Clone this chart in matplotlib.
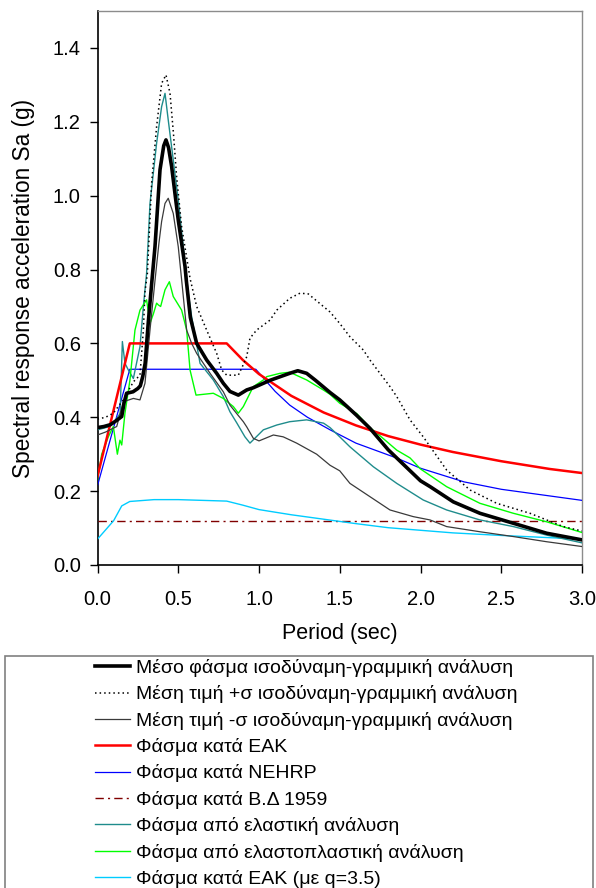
import matplotlib.pyplot as plt
from matplotlib.patches import Rectangle

plt.rcParams['font.family'] = ['Liberation Sans', 'DejaVu Sans']

# data (period in sec, Sa in g)
mean_T = [0.0, 0.04, 0.08, 0.12, 0.15, 0.165, 0.18, 0.22, 0.25, 0.265, 0.28, 0.295, 0.315, 0.335,
          0.356, 0.387, 0.41, 0.424, 0.44, 0.459, 0.5, 0.542, 0.55, 0.575, 0.614, 0.676, 0.738,
          0.779, 0.82, 0.872, 0.924, 0.965, 1.027, 1.068, 1.19, 1.24, 1.295, 1.35, 1.44, 1.5,
          1.543, 1.605, 1.687, 1.8, 1.9, 2.0, 2.06, 2.203, 2.368, 2.575, 2.781, 3.0]
mean_Sa = [0.372, 0.375, 0.38, 0.392, 0.402, 0.44, 0.465, 0.469, 0.478, 0.485, 0.51, 0.546, 0.66, 0.76,
           0.862, 1.07, 1.135, 1.151, 1.13, 1.079, 0.934, 0.808, 0.77, 0.67, 0.6, 0.555, 0.519,
           0.492, 0.47, 0.46, 0.474, 0.48, 0.492, 0.5, 0.519, 0.526, 0.519, 0.5, 0.467, 0.447,
           0.43, 0.405, 0.37, 0.312, 0.27, 0.228, 0.212, 0.171, 0.14, 0.113, 0.086, 0.068]

plus_T = [0.0, 0.05, 0.098, 0.13, 0.16, 0.222, 0.263, 0.284, 0.294, 0.309, 0.335, 0.366, 0.397,
          0.424, 0.449, 0.47, 0.49, 0.521, 0.573, 0.614, 0.676, 0.738, 0.769, 0.8, 0.872, 0.9,
          0.924, 0.944, 0.985, 1.068, 1.11, 1.19, 1.254, 1.305, 1.44, 1.5, 1.563, 1.646, 1.687,
          1.811, 1.853, 1.935, 2.017, 2.162, 2.307, 2.472, 2.678, 2.884, 3.0]
plus_Sa = [0.395, 0.4, 0.411, 0.43, 0.447, 0.496, 0.514, 0.636, 0.74, 0.79, 1.034, 1.187, 1.304,
           1.327, 1.277, 1.17, 1.051, 0.916, 0.776, 0.7, 0.636, 0.573, 0.528, 0.514, 0.514, 0.54,
           0.564, 0.614, 0.636, 0.663, 0.69, 0.722, 0.736, 0.734, 0.685, 0.654, 0.618, 0.582, 0.555,
           0.483, 0.456, 0.393, 0.347, 0.257, 0.203, 0.167, 0.14, 0.104, 0.092]

minus_T = [0.0, 0.05, 0.119, 0.16, 0.222, 0.263, 0.294, 0.325, 0.356, 0.38, 0.397, 0.418, 0.438,
           0.469, 0.5, 0.521, 0.542, 0.552, 0.583, 0.614, 0.697, 0.779, 0.82, 0.862, 0.903, 0.924,
           0.965, 1.0, 1.05, 1.089, 1.15, 1.233, 1.357, 1.44, 1.5, 1.563, 1.687, 1.811, 1.955,
           2.059, 2.162, 2.368, 2.575, 2.781, 3.0]
minus_Sa = [0.352, 0.36, 0.375, 0.442, 0.451, 0.447, 0.492, 0.636, 0.77, 0.87, 0.93, 0.979, 0.993,
            0.952, 0.862, 0.772, 0.68, 0.636, 0.6, 0.573, 0.519, 0.469, 0.433, 0.41, 0.388, 0.374,
            0.343, 0.336, 0.345, 0.352, 0.347, 0.33, 0.3, 0.27, 0.255, 0.221, 0.185, 0.149, 0.131,
            0.122, 0.104, 0.09, 0.077, 0.063, 0.05]

eak_T = [0.0, 0.2, 0.8, 0.9, 1.0, 1.2, 1.4, 1.6, 1.8, 2.0, 2.2, 2.5, 2.8, 3.0]
eak_Sa = [0.24, 0.6, 0.6, 0.555, 0.517, 0.458, 0.413, 0.378, 0.349, 0.326, 0.306, 0.281, 0.26, 0.249]

nehrp_T = [0.0, 0.2, 0.98, 1.1, 1.19, 1.3, 1.44, 1.6, 1.85, 2.0, 2.27, 2.5, 3.0]
nehrp_Sa = [0.215, 0.53, 0.53, 0.47, 0.433, 0.4, 0.366, 0.33, 0.29, 0.262, 0.225, 0.205, 0.175]

bd1959_T = [0.0, 3.0]
bd1959_Sa = [0.12, 0.12]

elastic_T = [0.0, 0.077, 0.108, 0.14, 0.154, 0.17, 0.191, 0.222, 0.263, 0.284, 0.304, 0.325, 0.366,
             0.397, 0.418, 0.438, 0.469, 0.5, 0.531, 0.562, 0.583, 0.635, 0.717, 0.779, 0.82, 0.862,
             0.913, 0.944, 1.027, 1.11, 1.19, 1.295, 1.4, 1.44, 1.5, 1.563, 1.708, 1.853, 2.017,
             2.162, 2.368, 2.575, 2.781, 3.0]
elastic_Sa = [0.366, 0.375, 0.39, 0.41, 0.605, 0.546, 0.528, 0.505, 0.591, 0.7, 0.79, 0.979, 1.142,
              1.241, 1.277, 1.205, 1.097, 0.988, 0.862, 0.736, 0.672, 0.546, 0.501, 0.456, 0.415, 0.385,
              0.347, 0.33, 0.366, 0.379, 0.388, 0.393, 0.384, 0.372, 0.347, 0.32, 0.266, 0.221, 0.176,
              0.149, 0.122, 0.104, 0.081, 0.06]

plastic_T = [0.0, 0.026, 0.067, 0.098, 0.123, 0.139, 0.15, 0.17, 0.201, 0.232, 0.263, 0.304, 0.325,
             0.346, 0.366, 0.377, 0.391, 0.418, 0.445, 0.469, 0.521, 0.552, 0.573, 0.61, 0.717, 0.779,
             0.841, 0.872, 0.903, 0.944, 0.965, 1.027, 1.048, 1.13, 1.19, 1.295, 1.398, 1.44, 1.5,
             1.605, 1.687, 1.749, 1.853, 1.935, 2.0, 2.162, 2.368, 2.575, 2.781, 3.0]
plastic_Sa = [0.23, 0.3, 0.347, 0.375, 0.3, 0.338, 0.325, 0.411, 0.501, 0.636, 0.69, 0.718, 0.654,
              0.68, 0.709, 0.704, 0.7, 0.745, 0.767, 0.727, 0.69, 0.636, 0.528, 0.46, 0.465, 0.451,
              0.429, 0.411, 0.429, 0.465, 0.483, 0.501, 0.51, 0.519, 0.522, 0.501, 0.474, 0.462, 0.438,
              0.41, 0.372, 0.35, 0.311, 0.29, 0.26, 0.212, 0.167, 0.14, 0.117, 0.088]

eakq_T = [0.0, 0.1, 0.15, 0.2, 0.35, 0.5, 0.8, 0.9, 1.0, 1.2, 1.4, 1.6, 1.8, 2.0, 2.2, 2.5, 2.8, 3.0]
eakq_Sa = [0.07, 0.12, 0.16, 0.172, 0.177, 0.177, 0.173, 0.162, 0.15, 0.136, 0.124, 0.112, 0.101,
           0.094, 0.087, 0.08, 0.074, 0.07]

labels = ['Μέσο φάσμα ισοδύναμη-γραμμική ανάλυση',
          'Μέση τιμή +σ ισοδύναμη-γραμμική ανάλυση',
          'Μέση τιμή -σ ισοδύναμη-γραμμική ανάλυση',
          'Φάσμα κατά ΕΑΚ',
          'Φάσμα κατά NEHRP',
          'Φάσμα κατά Β.Δ 1959',
          'Φάσμα από ελαστική ανάλυση',
          'Φάσμα από ελαστοπλαστική ανάλυση',
          'Φάσμα κατά ΕΑΚ (με q=3.5)']

W, H = 596, 888
fig = plt.figure(figsize=(W / 100, H / 100), dpi=100)
ax = fig.add_axes([97.5 / W, 1 - 565 / H, 484.5 / W, 554 / H])

# curves
l_mean, = ax.plot(mean_T, mean_Sa, color='black', lw=2.6, zorder=10)
l_plus, = ax.plot(plus_T, plus_Sa, color='black', lw=1.1, ls=(0, (1, 2)), zorder=9)
l_minus, = ax.plot(minus_T, minus_Sa, color='#3a3a3a', lw=0.9, zorder=8)
l_eak, = ax.plot(eak_T, eak_Sa, color='#ff0000', lw=1.8, zorder=7)
l_nehrp, = ax.plot(nehrp_T, nehrp_Sa, color='#0000ff', lw=0.9, zorder=6)
l_bd, = ax.plot(bd1959_T, bd1959_Sa, color='#800000', lw=1.0, ls=(0, (6, 3, 1.5, 3)), zorder=5)
l_el, = ax.plot(elastic_T, elastic_Sa, color='#1f8c8c', lw=1.0, zorder=6)
l_pl, = ax.plot(plastic_T, plastic_Sa, color='#00ff00', lw=1.0, zorder=6)
l_q, = ax.plot(eakq_T, eakq_Sa, color='#00ccff', lw=1.0, zorder=5)

ax.set_xlim(0, 3.0)
ax.set_ylim(0, 1.5)
ax.set_xticks([0.0, 0.5, 1.0, 1.5, 2.0, 2.5, 3.0])
ax.set_yticks([0.0, 0.2, 0.4, 0.6, 0.8, 1.0, 1.2, 1.4])
ax.xaxis.set_major_formatter(plt.FormatStrFormatter('%.1f'))
ax.yaxis.set_major_formatter(plt.FormatStrFormatter('%.1f'))
ax.tick_params(axis='both', direction='out', length=6, width=1, labelsize=14.5, color='black')
ax.tick_params(axis='x', pad=12)
ax.tick_params(axis='y', pad=6)

for side in ['left', 'bottom']:
    ax.spines[side].set_color('black')
    ax.spines[side].set_linewidth(1.2)
for side in ['top', 'right']:
    ax.spines[side].set_color('#8c8c8c')
    ax.spines[side].set_linewidth(1.0)

ax.set_xlabel('Period (sec)', fontsize=15.5)
ax.set_ylabel('Spectral response acceleration Sa (g)', fontsize=16.3)
ax.xaxis.set_label_coords(0.5, -0.104)
ax.yaxis.set_label_coords(-0.128, 0.5)

# legend box at the bottom (runs off the page)
fig.patches.append(Rectangle((5 / W, -0.05), 588 / W, 0.05 + 1 - 656 / H, transform=fig.transFigure,
                             fill=False, edgecolor='#808080', lw=1.2))
handles = [l_mean, l_plus, l_minus, l_eak, l_nehrp, l_bd, l_el, l_pl, l_q]
fig.legend(handles, labels, loc='upper left', bbox_to_anchor=(95 / W, 1 - 659 / H), frameon=False,
           fontsize=14.0, handlelength=1.8, handletextpad=0.3, labelspacing=0.43,
           borderpad=0, borderaxespad=0)

fig.savefig('out.png', dpi=100)
